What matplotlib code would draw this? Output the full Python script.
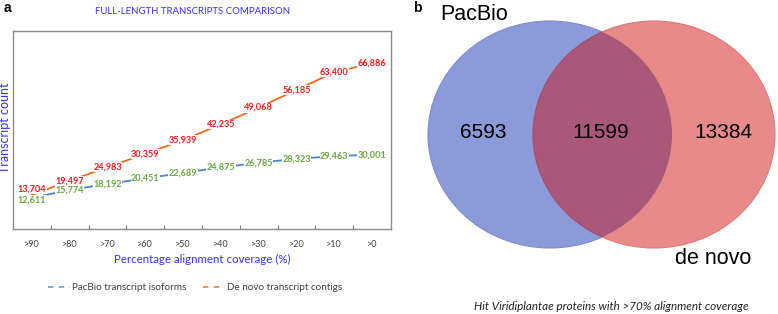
import matplotlib
matplotlib.use("Agg")
import matplotlib.pyplot as plt
from matplotlib.patches import Ellipse
from matplotlib.lines import Line2D

# ---------------- data ----------------
categories = [">90", ">80", ">70", ">60", ">50", ">40", ">30", ">20", ">10", ">0"]
pacbio_counts = [12611, 15774, 18192, 20451, 22689, 24875, 26785, 28323, 29463, 30001]
denovo_counts = [13704, 19497, 24983, 30359, 35939, 42235, 49068, 56185, 63400, 66886]
series_names = ["PacBio transcript isoforms", "De novo transcript contigs"]

venn_labels = ["PacBio", "de novo"]
venn_only_pacbio = 6593
venn_shared = 11599
venn_only_denovo = 13384

W, H = 778, 314
fig = plt.figure(figsize=(W / 100, H / 100), dpi=100)

CAL = ["Lato", "DejaVu Sans"]
ARIAL = ["Liberation Sans", "DejaVu Sans"]

# ---------------- panel a ----------------
ax = fig.add_axes([13 / W, 1 - 229 / H, 378 / W, 198 / H])
x = list(range(len(categories)))
blue_c = "#4a86d0"
orange_c = "#f26b1d"
ax.plot(x, pacbio_counts, color=blue_c, lw=1.3, zorder=2)
ax.plot(x, denovo_counts, color=orange_c, lw=1.3, zorder=2)
box = dict(boxstyle="square,pad=0.05", fc="white", ec="none")
for i, (xi, v) in enumerate(zip(x, pacbio_counts)):
    dy = -1.5 if i == 0 else 0
    ax.annotate(f"{v:,}", (xi, v), xytext=(0, dy), textcoords="offset points",
                ha="center", va="center", fontsize=6.6, fontweight="bold",
                family=CAL, color="#6aa83c", zorder=3, bbox=box)
for i, (xi, v) in enumerate(zip(x, denovo_counts)):
    dy = 4 if i == 0 else 0
    ax.annotate(f"{v:,}", (xi, v), xytext=(0, dy), textcoords="offset points",
                ha="center", va="center", fontsize=6.6, fontweight="bold",
                family=CAL, color="#ff1a1a", zorder=3, bbox=box)

ax.set_xlim(-0.5, len(categories) - 0.5)
ax.set_ylim(0, 80000)
ax.set_yticks([])
ax.set_xticks(x)
ax.set_xticklabels(categories, fontsize=6.5, family=CAL, color="#404040")
ax.tick_params(axis="x", which="major", length=0, pad=8)
ax.set_xticks([i + 0.5 for i in x[:-1]], minor=True)
ax.tick_params(axis="x", which="minor", direction="in", length=3, color="#808080", width=0.8)
for s in ax.spines.values():
    s.set_color("#8c8c8c")
    s.set_linewidth(1.0)

fig.text(202 / W, 1 - 259 / H, "Percentage alignment coverage (%)", ha="center", va="center",
         fontsize=8.3, family=CAL, color="#3333ff")
fig.text(5 / W, 1 - 128 / H, "Transcript count", ha="center", va="center", rotation=90,
         fontsize=9, family=CAL, color="#3333ff")
fig.text(193 / W, 1 - 12 / H, "FULL-LENGTH TRANSCRIPTS COMPARISON", ha="center", va="center",
         fontsize=6.9, family=CAL, color="#3333ff")
fig.text(7 / W, 1 - 8 / H, "a", ha="center", va="center", fontsize=10, fontweight="bold",
         family=ARIAL, color="black")

handles = [Line2D([], [], color="#6fa3dc", lw=1.3, dashes=(3, 3)),
           Line2D([], [], color="#f4874a", lw=1.3, dashes=(3, 3))]
leg = fig.legend(handles, series_names, loc="center", bbox_to_anchor=(195 / W, 1 - 288 / H),
                 ncol=2, frameon=False, handlelength=2.2, handletextpad=0.2,
                 columnspacing=1.7, prop={"family": CAL, "size": 7.1})
for t in leg.get_texts():
    t.set_color("#404040")

# ---------------- panel b ----------------
bx = fig.add_axes([400 / W, 0, 378 / W, 1])
bx.set_xlim(400, 778)
bx.set_ylim(314, 0)
bx.axis("off")

blue_fill = "#8b9ad8"
red_fill = "#e88a8a"
mid_fill = "#a9587a"
e_blue = Ellipse((550, 134.5), 244, 227, fc=blue_fill, ec="#7d8cd0", lw=0.8, zorder=1)
e_red = Ellipse((654, 134.5), 242, 227, fc=red_fill, ec="#e07878", lw=0.8, zorder=2)
bx.add_patch(e_blue)
bx.add_patch(e_red)
e_mid = Ellipse((654, 134.5), 242, 227, fc=mid_fill, ec="#a04e70", lw=0.8, zorder=3)
bx.add_patch(e_mid)
e_mid.set_clip_path(e_blue)

bx.text(483, 132, str(venn_only_pacbio), ha="center", va="center", fontsize=15, family=ARIAL, zorder=5)
bx.text(601, 132, str(venn_shared), ha="center", va="center", fontsize=15, family=ARIAL, zorder=5)
bx.text(723, 133, str(venn_only_denovo), ha="center", va="center", fontsize=15, family=ARIAL, zorder=5)
bx.text(474, 15, venn_labels[0], ha="center", va="center", fontsize=15.5, family=ARIAL, zorder=5)
bx.text(713, 258, venn_labels[1], ha="center", va="center", fontsize=15.5, family=ARIAL, zorder=5)
bx.text(417, 8, "b", ha="center", va="center", fontsize=10, fontweight="bold", family=ARIAL)
bx.text(611, 306, "Hit Viridiplantae proteins with >70% alignment coverage", ha="center",
        va="center", fontsize=8.4, style="italic", family=CAL, color="#222222")

fig.savefig("out.png", dpi=100)
